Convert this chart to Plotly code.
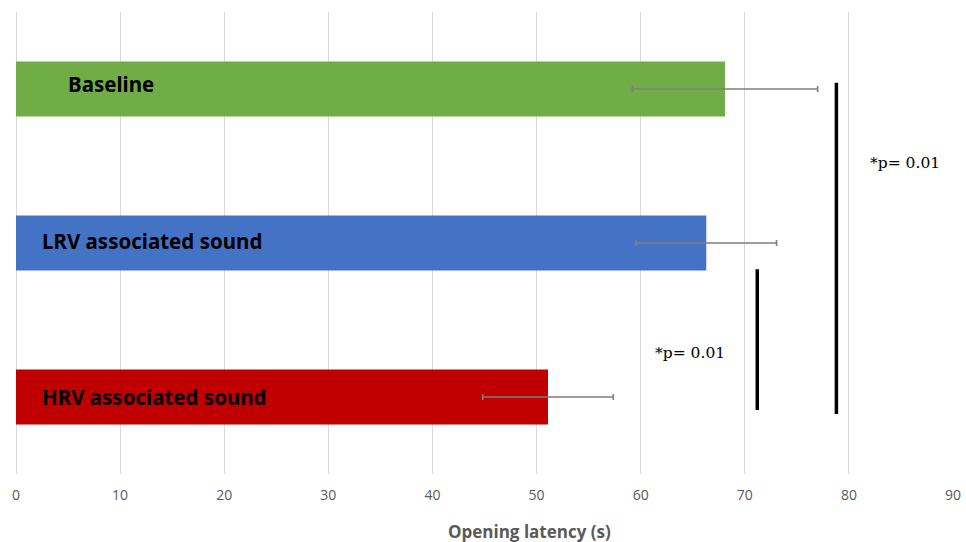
import plotly.graph_objects as go

# ---- data ----
categories = ["HRV associated sound", "LRV associated sound", "Baseline"]
latency = [51.1, 66.3, 68.1]
err = [6.27, 6.75, 8.9]
bar_colors = ["#C00000", "#4472C4", "#70AD47"]
label_x = [2.35, 2.35, 4.8]
label_dy = [0.0, 0.01, 0.03]

# significance brackets: x position, y start, y end (category units)
sig_x = [71.2, 78.8]
sig_y0 = [-0.084, -0.11]
sig_y1 = [0.83, 2.04]
sig_text = ["*p= 0.01", "*p= 0.01"]
sig_text_x = [64.7, 85.4]
sig_text_y = [0.286, 1.52]

x_ticks = [0, 10, 20, 30, 40, 50, 60, 70, 80, 90]
x_title = "Opening latency (s)"
ypos = list(range(len(categories)))

fig = go.Figure()
fig.add_trace(go.Bar(
    y=ypos, x=latency, orientation="h",
    marker=dict(color=bar_colors, line=dict(width=0)),
    width=0.357,
    error_x=dict(type="data", array=err, visible=True,
                 color="#7f7f7f", thickness=1.6, width=3),
    hoverinfo="x",
))

for i, c in enumerate(categories):
    fig.add_annotation(x=label_x[i], y=ypos[i] + label_dy[i], text="<b>" + c + "</b>",
                       xanchor="left", yanchor="middle", showarrow=False,
                       font=dict(family="Noto Sans", size=20.5, color="#000000"))

for i in range(len(sig_x)):
    fig.add_shape(type="line", x0=sig_x[i], x1=sig_x[i], y0=sig_y0[i], y1=sig_y1[i],
                  xref="x", yref="y", line=dict(color="#000000", width=3.5))
    fig.add_annotation(x=sig_text_x[i], y=sig_text_y[i], text=sig_text[i],
                       showarrow=False, xanchor="center", yanchor="middle",
                       bgcolor="#ffffff" if i == 1 else "rgba(0,0,0,0)",
                       borderpad=8,
                       font=dict(family="DejaVu Serif", size=15.5, color="#000000"))

# axis title (offset to the right as in the original)
fig.add_annotation(x=49.3, xref="x", y=-0.1255, yref="paper", text="<b>" + x_title + "</b>",
                   showarrow=False, xanchor="center", yanchor="middle",
                   font=dict(family="Open Sans", size=17, color="#595959"))

fig.update_layout(
    width=966, height=542,
    margin=dict(l=16, r=13, t=12, b=68, autoexpand=False),
    paper_bgcolor="#ffffff", plot_bgcolor="#ffffff",
    showlegend=False,
    xaxis=dict(range=[0, 90], tickvals=x_ticks, showgrid=True, gridcolor="#d9d9d9",
               gridwidth=1, zeroline=True, zerolinecolor="#d9d9d9", zerolinewidth=1,
               showline=False, ticks="", ticklabelstandoff=11, automargin=False,
               tickfont=dict(family="Open Sans", size=14, color="#595959")),
    yaxis=dict(range=[-0.5, 2.5], showticklabels=False, showgrid=False, automargin=False,
               zeroline=False, showline=False, ticks=""),
)

fig.write_html("out.html", config={"displayModeBar": False},
               post_script="document.body.style.margin='0';document.body.style.overflow='hidden';")
